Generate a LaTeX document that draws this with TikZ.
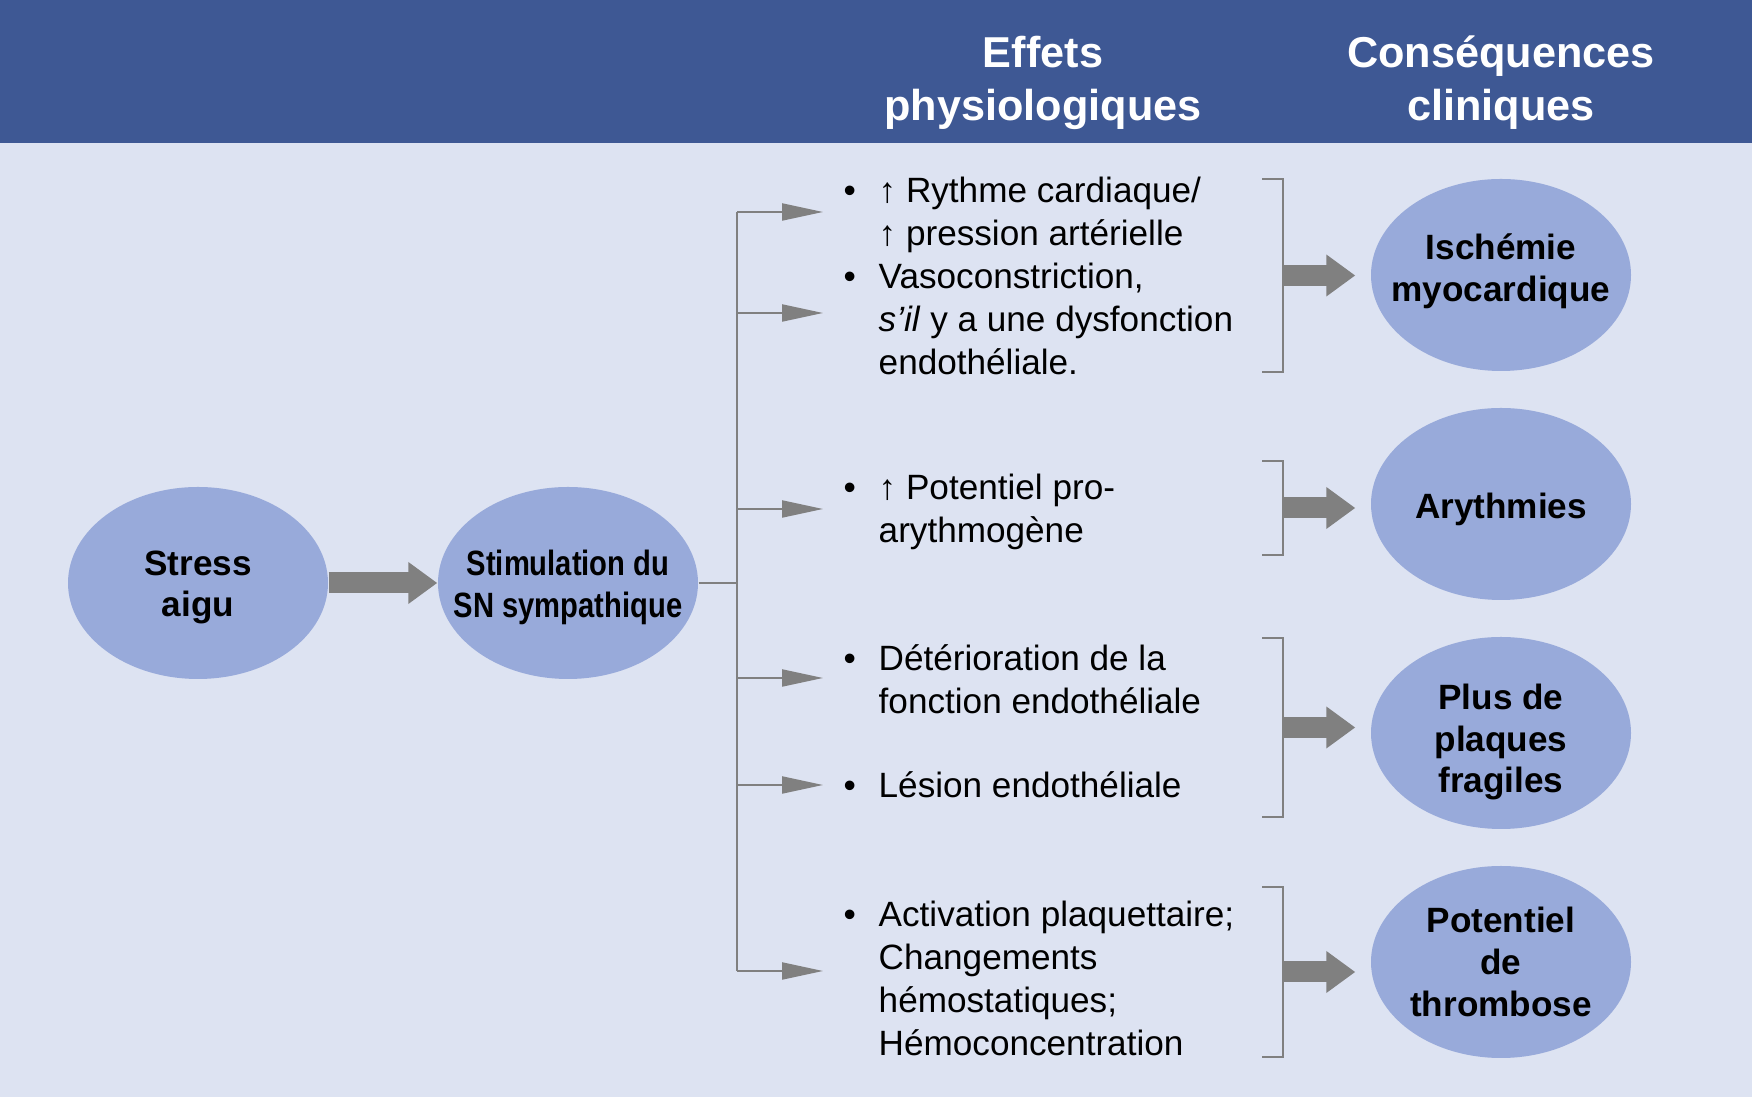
\documentclass[tikz,border=0pt]{standalone}
\usepackage{fontspec}
\setmainfont{Liberation Sans}
\newfontfamily\narrowfont[FakeStretch=0.83]{Liberation Sans}
\usetikzlibrary{arrows.meta,shapes.geometric}
\definecolor{bandblue}{RGB}{62,88,148}
\definecolor{paleblue}{RGB}{221,227,242}
\definecolor{ovalblue}{RGB}{152,170,218}
\definecolor{arrowgray}{RGB}{128,128,128}

\begin{document}
\begin{tikzpicture}[
    ovaltext/.style = {inner sep=0pt, align=center, font=\fontsize{10}{11.9}\selectfont\bfseries},
    oval/.style 2 args = {ellipse, fill=ovalblue, minimum width=2.6cm, minimum height=1.92cm,
      inner sep=0pt, label={[ovaltext, yshift=#2]center:#1}},
    fat/.style = {arrowgray, line width=0.21cm, -{Triangle[length=0.29cm, width=0.4cm]}},
    branch/.style = {arrowgray, line width=0.6pt},
    brk/.style = {arrowgray, line width=0.6pt},
    txt/.style = {anchor=base west, inner sep=0pt, font=\fontsize{10}{12.23}\selectfont},
    head/.style = {anchor=base, inner sep=0pt, text=white, font=\fontsize{12.3}{14.9}\selectfont\bfseries}
  ]

    \useasboundingbox (0, 0) rectangle (17.52, 10.97);
    \fill[paleblue] (0, 0) rectangle (17.52, 10.97);
    \fill[bandblue] (0, 9.54) rectangle (17.52, 10.97);

    \node[head] (effets) at (10.43, 10.29) {\begin{tabular}[t]{@{}c@{}}Effets\\physiologiques\end{tabular}};
    \node[head] (cons) at (15.01, 10.29) {\begin{tabular}[t]{@{}c@{}}Conséquences\\cliniques\end{tabular}};

    % left part
    \node[oval={Stress\\aigu}{-0.045cm}] (stress) at (1.98, 5.14) {};
    \node[oval={\narrowfont Stimulation du\\\narrowfont SN sympathique}{-0.045cm}] (stim) at (5.68, 5.14) {};
    \draw[fat] (stress) -- (stim);

    % fork towards the effects
    \coordinate (fork) at (7.37, 5.14);
    \foreach \y [count=\i] in {8.85, 7.84, 5.88, 4.19, 3.12, 1.26}
      \coordinate (t\i) at (8.23, \y);
    \draw[branch] (stim.east) -- (fork);
    \draw[branch] (fork |- t1) -- (fork |- t6);
    \foreach \i in {1, ..., 6}
      \draw[branch, -{Triangle[length=0.41cm, width=0.17cm]}] (fork |- t\i) -- (t\i);

    % effects
    \node[txt] (rythme) at (8.43, 8.94) {\begin{tabular}[t]{@{}p{0.35cm}@{}l@{}}
      \textbullet & ↑ Rythme cardiaque/\\
                  & ↑ pression artérielle\\
      \textbullet & Vasoconstriction,\\
                  & \textit{s’il} y a une dysfonction\\
                  & endothéliale.
    \end{tabular}};
    \node[txt] (potentiel) at (8.43, 5.97) {\begin{tabular}[t]{@{}p{0.35cm}@{}l@{}}
      \textbullet & ↑ Potentiel pro-\\
                  & arythmogène
    \end{tabular}};
    \node[txt] (deterior) at (8.43, 4.26) {\begin{tabular}[t]{@{}p{0.35cm}@{}l@{}}
      \textbullet & Détérioration de la\\
                  & fonction endothéliale
    \end{tabular}};
    \node[txt] (lesion) at (8.43, 2.99) {\begin{tabular}[t]{@{}p{0.35cm}@{}l@{}}
      \textbullet & Lésion endothéliale
    \end{tabular}};
    \node[txt] (activ) at (8.43, 1.70) {\begin{tabular}[t]{@{}p{0.35cm}@{}l@{}}
      \textbullet & Activation plaquettaire;\\
                  & Changements\\
                  & hémostatiques;\\
                  & Hémoconcentration
    \end{tabular}};

    % consequences
    \node[oval={Ischémie\\myocardique}{0.035cm}] (isch) at (15.01, 8.22) {};
    \node[oval={Arythmies}{-0.055cm}] (aryth) at (15.01, 5.93) {};
    \node[oval={Plus de\\plaques\\fragiles}{-0.09cm}] (plaq) at (15.01, 3.64) {};
    \node[oval={Potentiel\\de\\thrombose}{0cm}] (thromb) at (15.01, 1.35) {};

    \foreach \t/\b/\n in {9.18/7.25/isch, 6.36/5.42/aryth, 4.59/2.80/plaq, 2.10/0.40/thromb} {
      \draw[brk] (12.62, \t) -| (12.83, \b) -- (12.62, \b);
      \coordinate (m\n) at (12.83, {(\t + \b) / 2});
      \draw[fat, shorten >=0.15cm] (m\n) -- (m\n -| \n.west);
    }

\end{tikzpicture}
\end{document}
